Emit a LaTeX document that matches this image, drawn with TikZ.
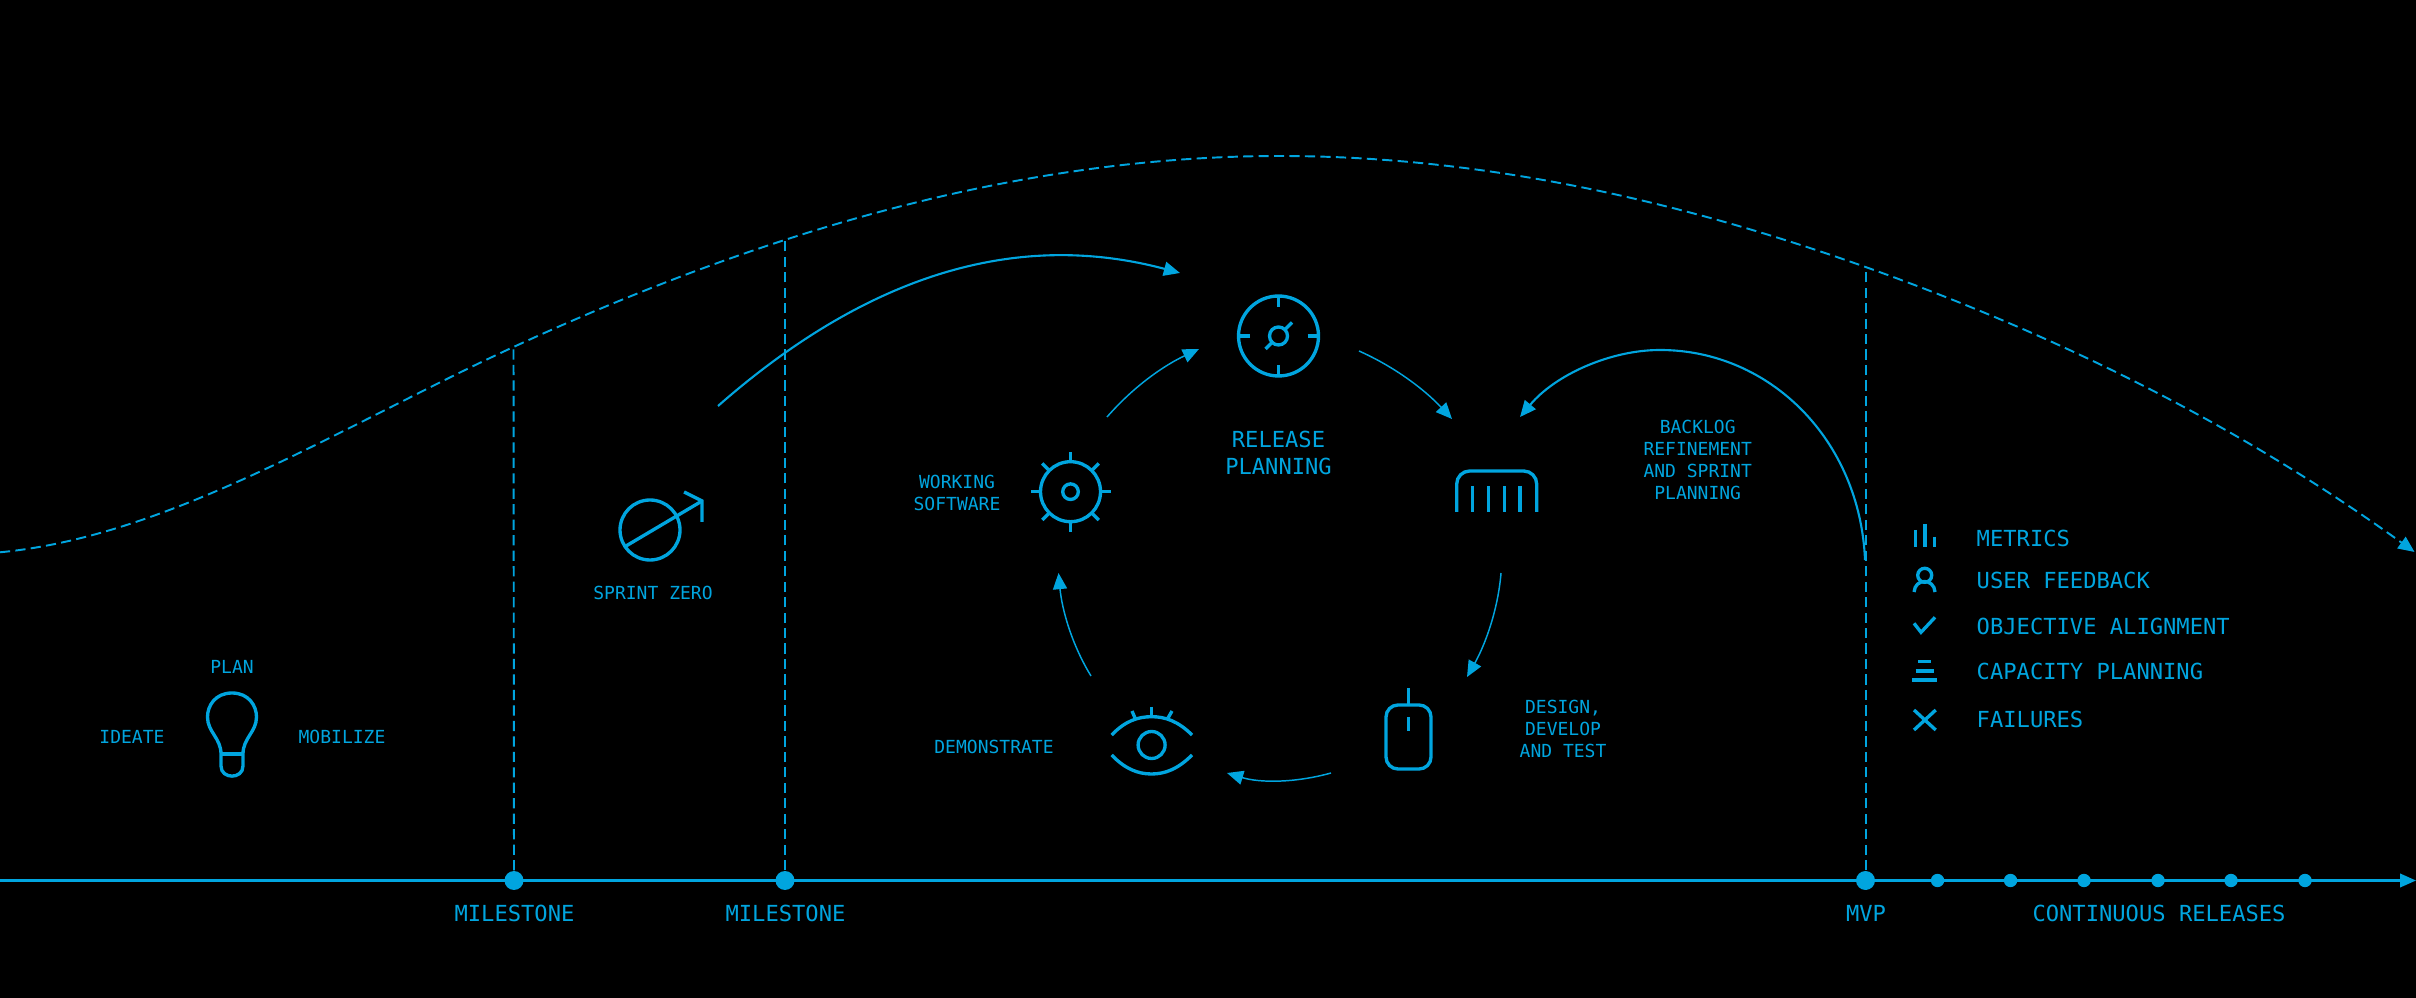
\documentclass[tikz,border=0pt]{standalone}
\usepackage{fontspec}
\setmainfont{DejaVu Sans Mono}
\usepackage{tikz}
\usetikzlibrary{arrows.meta}
\definecolor{lineblue}{HTML}{00A5DF}

\begin{document}
\begin{tikzpicture}[x=0.01cm,y=-0.01cm,
		every path/.style={color=lineblue},
		tip/.style={-{Triangle[length=4.6pt,width=4pt]}},
		thinarrow/.style={tip,line width=0.42pt},
		bigarrow/.style={tip,line width=0.6pt},
		guide/.style={line width=0.55pt,dash pattern=on 2.9pt off 1.5pt},
		icon/.style={line width=0.95pt},
		smalllabel/.style={text=lineblue,inner sep=0pt,align=center,font=\fontsize{5.12}{6.26}\selectfont},
		biglabel/.style={text=lineblue,inner sep=0pt,align=center,font=\fontsize{6.29}{7.68}\selectfont},
		legendlabel/.style={biglabel,anchor=west},
		bigdot/.style={circle,fill=lineblue,inner sep=0pt,minimum size=5.4pt},
		smalldot/.style={circle,fill=lineblue,inner sep=0pt,minimum size=3.8pt}]
		\fill[black] (0,0) rectangle (2416,998);
		\useasboundingbox (0,0) rectangle (2416,998);

		% Timeline
		\coordinate (timeStart) at (0,880.5);
		\coordinate (timeEnd) at (2416,880.5);
		\draw[line width=0.65pt,-{Triangle[length=4.5pt,width=3.8pt]}] (timeStart) -- (timeEnd);
		\node[bigdot] (mileOne) at (514,880.5) {};
		\node[bigdot] (mileTwo) at (785,880.5) {};
		\node[bigdot] (mvp) at (1865.5,880.5) {};
		\foreach \x [count=\i] in {1937.5,2010.5,2084,2158,2231,2305}
			\node[smalldot] (rel\i) at (\x,880.5) {};
		\node[biglabel] (mileOneText) at (514.5,913) {MILESTONE};
		\node[biglabel] (mileTwoText) at (785.5,913) {MILESTONE};
		\node[biglabel] (mvpText) at (1866,913) {MVP};
		\node[biglabel] (relText) at (2159,913) {CONTINUOUS RELEASES};

		% Dashed curve
		\coordinate (curveOne) at (513.5,347);
		\coordinate (curveTop) at (1279.6,156);
		\coordinate (curveThree) at (1865.5,267);
		\coordinate (curveTwo) at (785,239);
		\coordinate (curveStart) at (0,552.3);
		\coordinate (curveEnd) at (2414.5,552);
		\draw[guide,tip] (curveStart) .. controls (171,536) and (342,426) .. (curveOne)
			.. controls (768.5,229.5) and (1024,156) .. (curveTop)
			.. controls (1475,156) and (1670,197.6) .. (curveThree)
			.. controls (2048,332) and (2231.5,420) .. (curveEnd);
		\draw[guide] (mileOne) -- (curveOne);
		\draw[guide] (mileTwo) -- (curveTwo);
		\draw[guide] (mvp) -- (curveThree);

		% Plan
		\draw[icon] (232,693) .. controls (215,693) and (207.5,706) .. (207.5,717)
			.. controls (207.5,732) and (221,738) .. (221,754) -- (221,766)
			.. controls (221,779.5) and (243,779.5) .. (243,766) -- (243,754)
			.. controls (243,738) and (256.5,732) .. (256.5,717)
			.. controls (256.5,706) and (249,693) .. (232,693) -- cycle;
		\draw[icon] (221,754) -- (243,754);
		\node[smalllabel] (plan) at (232,667) {PLAN};
		\node[smalllabel] (ideate) at (132,736.5) {IDEATE};
		\node[smalllabel] (mobilize) at (342,736.5) {MOBILIZE};

		% Sprint zero
		\draw[icon] (650,530) circle (30);
		\draw[icon] (626,546) -- (702,501);
		\draw[icon] (684,492) -- (702,501) -- (702,522);
		\node[smalllabel] (sprint) at (653,592.5) {SPRINT ZERO};

		% Release planning
		\coordinate (compass) at (1278.5,336);
		\begin{scope}[shift={(compass)}]
			\draw[icon] (0,0) circle (40);
			\draw[icon] (0,0) circle (9);
			\foreach \a in {0,90,180,270}
				\draw[icon] (\a:29) -- (\a:40);
			\draw[icon] (-13,13) -- (-6,6);
			\draw[icon] (13.5,-13.5) -- (6,-6);
		\end{scope}
		\node[biglabel] (release) at (1278.5,452.5) {RELEASE\\PLANNING};

		% Backlog
		\draw[icon] (1456.7,512) -- (1456.7,486) [rounded corners=3.7pt] -- (1456.7,471) -- (1536.7,471) [sharp corners] -- (1536.7,512);
		\foreach \x in {1472.7,1488.5,1504.3,1520}
			\draw[icon] (\x,486) -- (\x,512);
		\node[smalllabel] (backlog) at (1697.7,459.5) {BACKLOG\\REFINEMENT\\AND SPRINT\\PLANNING};

		% Design
		\draw[icon,rounded corners=3.4pt] (1386,705) rectangle (1431,769);
		\draw[icon] (1408.5,688) -- (1408.5,705);
		\draw[icon] (1408.5,717) -- (1408.5,731);
		\node[smalllabel] (design) at (1563,728.5) {DESIGN,\\DEVELOP\\AND TEST};

		% Demonstrate
		\draw[icon] (1111.7,735) .. controls (1125,721) and (1138,716.7) .. (1151.6,716.7)
			.. controls (1165,716.7) and (1178,721) .. (1192,735);
		\draw[icon] (1111.7,755) .. controls (1125,769) and (1138,774) .. (1151.6,774)
			.. controls (1165,774) and (1178,769) .. (1192,755);
		\draw[icon] (1151.6,745) circle (13.5);
		\draw[icon] (1151.6,707) -- (1151.6,717);
		\draw[icon] (1132,711) -- (1135,718);
		\draw[icon] (1172,711) -- (1168,718);
		\node[smalllabel] (demo) at (994,746.5) {DEMONSTRATE};

		% Working software
		\coordinate (gear) at (1070.5,491.7);
		\begin{scope}[shift={(gear)}]
			\draw[icon] (0,0) circle (30);
			\draw[icon] (0,0) circle (7.8);
			\foreach \a in {0,45,...,315}
				\draw[icon] (\a:30) -- (\a:40);
		\end{scope}
		\node[smalllabel] (working) at (957,493) {WORKING\\SOFTWARE};

		% Cycle
		\coordinate (gearOut) at (1107,417);
		\coordinate (compassIn) at (1199,349);
		\coordinate (compassOut) at (1359,351);
		\coordinate (backlogIn) at (1452,419);
		\coordinate (backlogOut) at (1501,573);
		\coordinate (mouseIn) at (1467,677);
		\coordinate (mouseOut) at (1331,773);
		\coordinate (eyeIn) at (1227,773);
		\coordinate (eyeOut) at (1091,676);
		\coordinate (gearIn) at (1058.5,573);
		\draw[thinarrow] (gearOut) .. controls (1135,385) and (1165,365) .. (compassIn);
		\draw[thinarrow] (compassOut) .. controls (1395,367) and (1425,390) .. (backlogIn);
		\draw[thinarrow] (backlogOut) .. controls (1498,610) and (1485,645) .. (mouseIn);
		\draw[thinarrow] (mouseOut) .. controls (1295,783) and (1260,783) .. (eyeIn);
		\draw[thinarrow] (eyeOut) .. controls (1072,645) and (1062,610) .. (gearIn);

		% Big arcs
		\coordinate (sprintOut) at (718,406);
		\coordinate (releaseIn) at (1180,273);
		\coordinate (mvpOut) at (1865,560);
		\coordinate (arcTop) at (1660,350);
		\coordinate (backlogTop) at (1520,417);
		\draw[bigarrow] (sprintOut) .. controls (850,290) and (1000,225) .. (releaseIn);
		\draw[bigarrow] (mvpOut) .. controls (1860,440) and (1770,350) .. (arcTop)
			.. controls (1610,350) and (1555,375) .. (backlogTop);

		% Legend
		\draw[icon] (1915.3,530) -- (1915.3,547.5);
		\draw[icon] (1925,524) -- (1925,547.5);
		\draw[icon] (1934.3,536.7) -- (1934.3,547.5);
		\draw[icon] (1924.7,575.3) circle (7);
		\draw[icon] (1914,592) .. controls (1915,578) and (1934,578) .. (1935,592);
		\draw[icon] (1914,623.3) -- (1921,632.3) -- (1935,617.3);
		\draw[icon] (1918.3,661.3) -- (1931,661.3);
		\draw[icon] (1915.7,671) -- (1934,671);
		\draw[icon] (1912.3,680) -- (1936.7,680);
		\draw[icon] (1914,710) -- (1935.7,730);
		\draw[icon] (1935.7,710) -- (1914,730);
		\node[legendlabel] (metrics) at (1976,538.3) {METRICS};
		\node[legendlabel] (feedback) at (1976,580.5) {USER FEEDBACK};
		\node[legendlabel] (alignment) at (1976,626) {OBJECTIVE ALIGNMENT};
		\node[legendlabel] (capacity) at (1976,671.7) {CAPACITY PLANNING};
		\node[legendlabel] (failures) at (1976,719.3) {FAILURES};
	\end{tikzpicture}
\end{document}
